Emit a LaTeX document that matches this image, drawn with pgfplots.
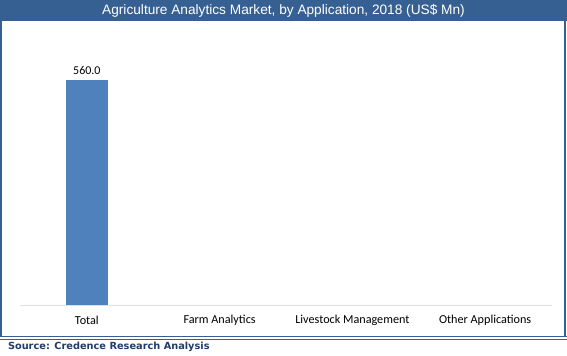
\documentclass[border=0pt]{standalone}
\usepackage{pgfplots}
\pgfplotsset{compat=1.18}
\usepackage{fontspec}
\setmainfont{Carlito}
\newfontfamily\titlefont{Liberation Sans}
\newfontfamily\srcfont{DejaVu Sans}
\definecolor{titlebg}{HTML}{376092}
\definecolor{barblue}{HTML}{4F81BD}
\definecolor{srcblue}{HTML}{1F3D6B}
\begin{document}
\begin{tikzpicture}[x=1pt,y=1pt]
\fill[white] (0,0) rectangle (567,354);
% title bar
\fill[titlebg] (0,333) rectangle (567,354);
\node[text=white,font=\titlefont\fontsize{13.7}{15}\selectfont] at (283.5,343) {Agriculture Analytics Market, by Application, 2018 (US\$ Mn)};
% frame
\draw[titlebg,line width=1.5pt] (0.75,16.5) -- (0.75,333) (565.5,16.5) -- (565.5,333);
\draw[titlebg,line width=1pt] (0,16.5) -- (567,16.5);
\draw[titlebg,line width=0.8pt] (0,13.8) -- (567,13.8);
\node[anchor=west,text=srcblue,font=\srcfont\bfseries\fontsize{9.8}{11}\selectfont] at (4,6.3) {Source: Credence Research Analysis};
\begin{axis}[
  at={(20pt,48pt)}, anchor=south west,
  width=532pt, height=282.5pt, scale only axis,
  xmin=-0.5, xmax=3.5, ymin=0, ymax=700,
  axis lines=none,
  ybar, bar width=42pt,
  xtick=data,
  clip=false,
  /pgf/number format/assume math mode=true,
  nodes near coords={\pgfmathprintnumber[fixed,fixed zerofill,precision=1,assume math mode=true]{\pgfplotspointmeta}},
  every node near coord/.append style={font=\fontsize{12}{14}\selectfont, black, yshift=2pt},
]
\draw[gray!25,line width=0.8pt] (axis cs:-0.5,0) -- (axis cs:3.5,0);
\addplot[fill=barblue, draw=none] coordinates {(0,560)};
\node[font=\fontsize{12.2}{14}\selectfont] at (axis cs:0,0) [yshift=-15pt] {Total};
\node[font=\fontsize{12.2}{14}\selectfont] at (axis cs:1,0) [yshift=-15pt] {Farm Analytics};
\node[font=\fontsize{12.2}{14}\selectfont] at (axis cs:2,0) [yshift=-15pt] {Livestock Management};
\node[font=\fontsize{12.2}{14}\selectfont] at (axis cs:3,0) [yshift=-15pt] {Other Applications};
\end{axis}
\end{tikzpicture}
\end{document}
